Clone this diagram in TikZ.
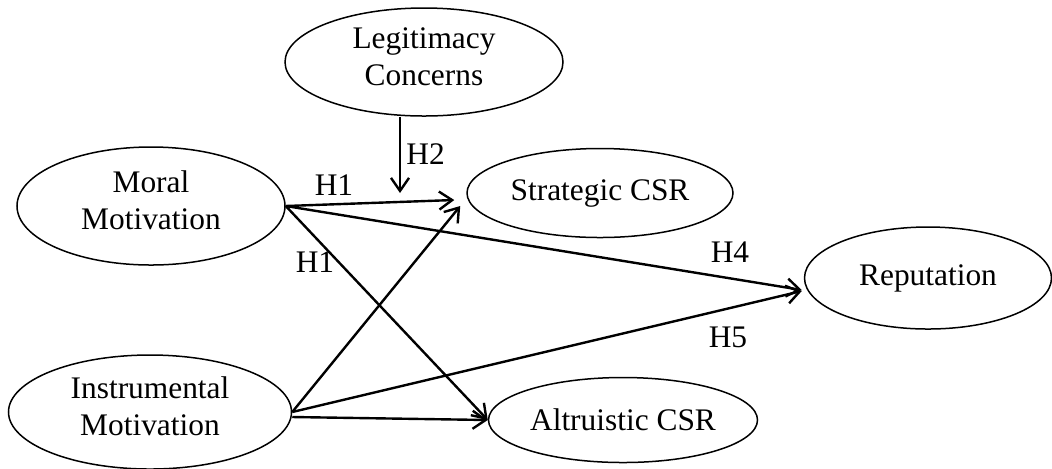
\documentclass[tikz,border=0pt]{standalone}
\usepackage{fontspec}
\setmainfont{Liberation Serif}
\usetikzlibrary{arrows.meta,shapes.geometric}
% extra depth on the last line lifts two-line labels inside their ellipses
\newcommand{\liftstrut}{\rule[-5.5pt]{0pt}{5.5pt}}
\begin{document}
\begin{tikzpicture}[x=0.5pt,y=-0.5pt,
  txt/.style={font=\fontsize{15.7}{18.5}\selectfont},
  construct/.style={txt, draw, ellipse, line width=0.75pt, inner sep=0pt, align=center},
  link/.style={line width=1.2pt, -{Straight Barb[length=6.5pt,width=9pt]}},
  hyp/.style={txt, inner sep=0pt}
]
\useasboundingbox (0,0) rectangle (1052,468);

% constructs
\node[construct, minimum width=139pt, minimum height=54pt]   (legit) at (424,62)  {Legitimacy\\Concerns\liftstrut};
\node[construct, minimum width=134pt, minimum height=59pt]   (moral) at (151,206) {Moral\\Motivation\liftstrut};
\node[construct, minimum width=141.5pt, minimum height=57pt] (inst)  at (150,412) {Instrumental\\Motivation\liftstrut};
\node[construct, minimum width=133pt, minimum height=44.5pt] (strat) at (600,193) {Strategic CSR};
\node[construct, minimum width=134.5pt, minimum height=42.5pt] (altr) at (623,420) {Altruistic CSR};
\node[construct, minimum width=123.5pt, minimum height=51pt] (rep)   at (928,278) {Reputation};

% point where the moderating effect meets the H1 path
\coordinate (mod) at (400,193);

% paths
\draw[link] (moral.east) -- ([xshift=-6pt,yshift=-3.5pt]strat.west);
\draw[link] (moral.east) -- ([xshift=-1pt,yshift=-6pt]rep.west);
\draw[link] (moral.east) -- (altr.west);
\draw[link] (inst.east) -- ([xshift=-3pt,yshift=-6.5pt]strat.west);
\draw[link] (inst.east) -- ([xshift=-1pt,yshift=-6.5pt]rep.west);
\draw[link] ([yshift=-2.5pt]inst.east) -- (altr.west);
\draw[link] (legit.south -| mod) -- (mod);

% hypothesis labels
\node[hyp] (h1a) at (334,185) {H1};
\node[hyp] (h1b) at (315,262) {H1};
\node[hyp, anchor=west] (h2) at (406,154) {H2};
\node[hyp] (h4) at (730,252) {H4};
\node[hyp] (h5) at (728,337) {H5};
\end{tikzpicture}
\end{document}
